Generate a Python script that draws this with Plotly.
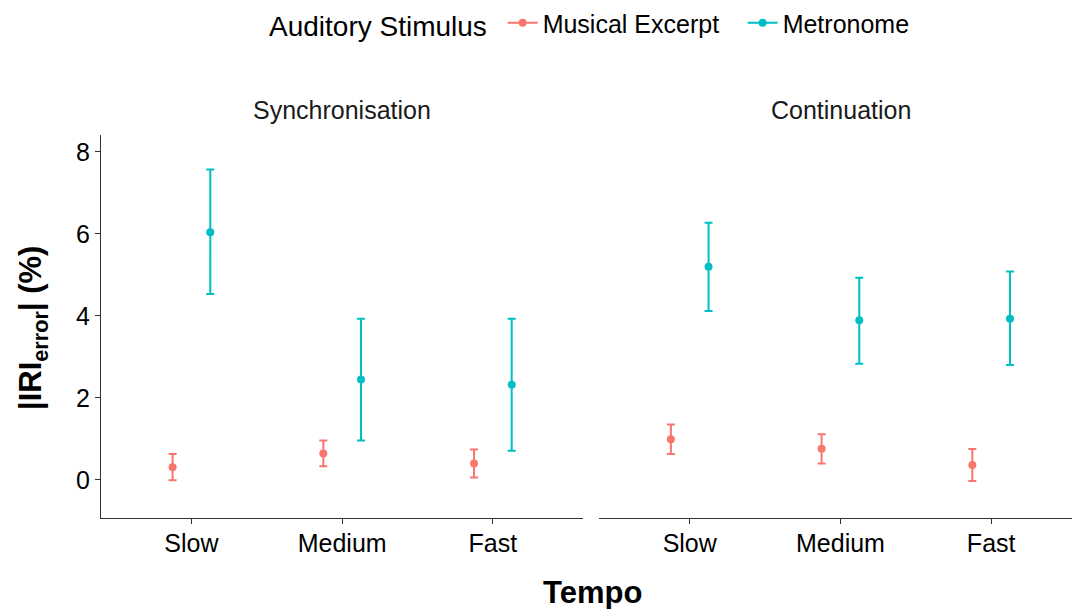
import plotly.graph_objects as go

tempo = ["Slow", "Medium", "Fast"]
phases = ["Synchronisation", "Continuation"]
stimuli = ["Musical Excerpt", "Metronome"]

# mean, lower, upper per phase -> stimulus
mean = {
    "Synchronisation": {"Musical Excerpt": [0.31, 0.64, 0.40], "Metronome": [6.04, 2.45, 2.32]},
    "Continuation": {"Musical Excerpt": [0.99, 0.76, 0.36], "Metronome": [5.20, 3.89, 3.93]},
}
lower = {
    "Synchronisation": {"Musical Excerpt": [-0.01, 0.33, 0.06], "Metronome": [4.53, 0.96, 0.71]},
    "Continuation": {"Musical Excerpt": [0.63, 0.40, -0.03], "Metronome": [4.12, 2.83, 2.80]},
}
upper = {
    "Synchronisation": {"Musical Excerpt": [0.63, 0.96, 0.74], "Metronome": [7.57, 3.93, 3.93]},
    "Continuation": {"Musical Excerpt": [1.35, 1.11, 0.75], "Metronome": [6.27, 4.93, 5.08]},
}
yticks = [0, 2, 4, 6, 8]

colors = {"Musical Excerpt": "#F8766D", "Metronome": "#00BFC4"}
dodge = {"Musical Excerpt": -0.125, "Metronome": 0.125}
FONT = "Liberation Sans"
W, H = 1072, 609

fig = go.Figure()
for pi, ph in enumerate(phases):
    xa = "x" if pi == 0 else "x2"
    for st in stimuli:
        m = mean[ph][st]
        lo = lower[ph][st]
        up = upper[ph][st]
        xs = [i + 1 + dodge[st] for i in range(len(tempo))]
        fig.add_trace(go.Scatter(
            x=xs, y=m, mode="markers", xaxis=xa, yaxis="y",
            marker=dict(color=colors[st], size=8),
            error_y=dict(type="data", symmetric=False,
                         array=[u - v for u, v in zip(up, m)],
                         arrayminus=[v - l for v, l in zip(m, lo)],
                         color=colors[st], thickness=2, width=4),
            showlegend=False, hoverinfo="skip",
        ))
for st in stimuli:
    fig.add_trace(go.Scatter(
        x=[None], y=[None], mode="lines+markers", name=st,
        line=dict(color=colors[st], width=2),
        marker=dict(color=colors[st], size=8),
    ))

def px(v):
    return v / W

def py(v):
    return 1 - v / H

ppu = (583.3 - 101) / 3.2
right_end = 0.4 + (W - 599.3) / ppu

common_x = dict(
    tickmode="array", tickvals=[1, 2, 3], ticktext=tempo,
    showline=True, linecolor="#333333", linewidth=1.2,
    ticks="outside", ticklen=5, tickcolor="#333333", tickwidth=1.2,
    showgrid=False, zeroline=False, ticklabelstandoff=-2,
    tickfont=dict(family=FONT, size=25, color="#000000"),
    anchor="y",
)
fig.update_layout(
    width=W, height=H,
    margin=dict(l=0, r=0, t=0, b=0),
    paper_bgcolor="white", plot_bgcolor="white",
    xaxis=dict(domain=[px(101), px(583.3)], range=[0.4, 3.6], **common_x),
    xaxis2=dict(domain=[px(599.3), 1.0], range=[0.4, right_end], **common_x),
    yaxis=dict(domain=[py(518), py(135)], range=[-0.93, 8.41],
               tickmode="array", tickvals=yticks,
               showline=True, linecolor="#333333", linewidth=1.2,
               ticks="outside", ticklen=5, tickcolor="#333333", tickwidth=1.2,
               showgrid=False, zeroline=False,
               tickfont=dict(family=FONT, size=25, color="#000000")),
    legend=dict(orientation="h", x=px(267), y=1.0, xanchor="left", yanchor="top",
                title=dict(text="Auditory Stimulus\u00a0", font=dict(family=FONT, size=28, color="#000000")),
                font=dict(family=FONT, size=25, color="#000000"),
                itemwidth=30, tracegroupgap=0,
                entrywidth=195, entrywidthmode="pixels"),
    annotations=[
        dict(text="Synchronisation", x=px(342), y=py(110), xref="paper", yref="paper",
             xanchor="center", yanchor="middle",
             showarrow=False, font=dict(family=FONT, size=25, color="#1a1a1a")),
        dict(text="Continuation", x=px(840.5), y=py(110), xref="paper", yref="paper",
             xanchor="center", yanchor="middle",
             showarrow=False, font=dict(family=FONT, size=25, color="#1a1a1a")),
        dict(text="<b>Tempo</b>", x=px(592), y=py(592), xref="paper", yref="paper",
             xanchor="center", yanchor="middle",
             showarrow=False, font=dict(family=FONT, size=31, color="#000000")),
        dict(text="<b>|IRI<sub>error</sub>| (%)</b>", x=px(33), y=py(328), xref="paper", yref="paper",
             xanchor="center", yanchor="middle",
             showarrow=False, textangle=-90, font=dict(family=FONT, size=31, color="#000000")),
    ],
)

fig.write_html("out.html", config={"displayModeBar": False},
               post_script="document.body.style.margin='0px';")
